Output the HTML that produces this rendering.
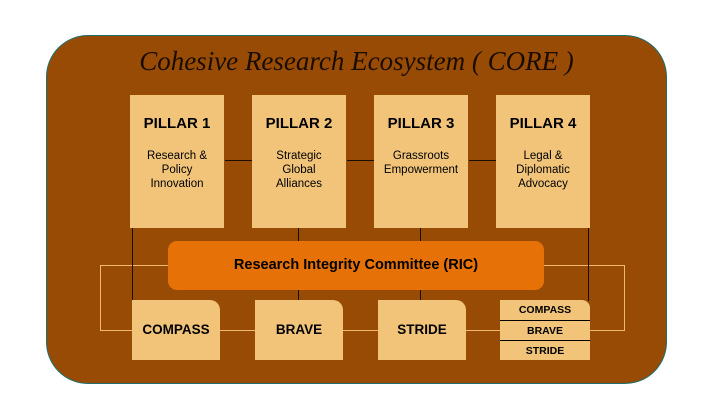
<!DOCTYPE html>
<html><head><meta charset="utf-8"><style>
body{margin:0;width:720px;height:405px;background:#fff;position:relative;overflow:hidden;font-family:"Liberation Sans",sans-serif}
.a{position:absolute;box-sizing:border-box}
.bg{left:46px;top:35px;width:621px;height:349px;background:#984b04;border:1.5px solid #1e6f70;border-radius:42px}
.t{left:46px;top:46px;width:621px;text-align:center;font-family:"Liberation Serif",serif;font-style:italic;font-size:27px;color:#1a0d00;letter-spacing:0px}
.p{top:95px;width:94px;height:133px;background:#f1c47a;text-align:center;color:#000}
.p b{display:block;margin-top:20px;font-size:15px}
.p div{margin-top:17px;font-size:11.5px;line-height:14px}
.l{background:#1a0d00}
.ric{left:168px;top:241px;width:376px;height:49px;background:#e57107;border-radius:9px;text-align:center;line-height:49px;font-weight:bold;font-size:14.5px;color:#000}
.b{top:300px;width:88px;height:60px;background:#f1c47a;border-top-right-radius:10px;text-align:center;line-height:60px;font-weight:bold;font-size:13.5px;color:#000}
.s{left:500px;top:300px;width:90px;height:60px;background:#f1c47a;border-top-right-radius:8px;font-weight:bold;font-size:10.5px;text-align:center;color:#000}
.s div{height:20px;line-height:20px;box-sizing:border-box}
</style></head><body>
<div class="a bg"></div>
<div class="a t">Cohesive Research Ecosystem ( CORE )</div>
<div class="a" style="left:100px;top:265px;width:525px;height:66px;border:1px solid #f0b870"></div>
<div class="a l" style="left:225px;top:160px;width:28px;height:1px"></div>
<div class="a l" style="left:347px;top:160px;width:28px;height:1px"></div>
<div class="a l" style="left:469px;top:160px;width:28px;height:1px"></div>
<div class="a l" style="left:132px;top:225px;width:1px;height:76px"></div>
<div class="a l" style="left:298px;top:225px;width:1px;height:76px"></div>
<div class="a l" style="left:420px;top:225px;width:1px;height:76px"></div>
<div class="a l" style="left:588px;top:225px;width:1px;height:76px"></div>
<div class="a" style="left:220px;top:330px;width:280px;border-top:1px dashed #f0b870"></div>
<div class="a p" style="left:130px"><b>PILLAR 1</b><div>Research &amp;<br>Policy<br>Innovation</div></div>
<div class="a p" style="left:252px"><b>PILLAR 2</b><div>Strategic<br>Global<br>Alliances</div></div>
<div class="a p" style="left:374px"><b>PILLAR 3</b><div>Grassroots<br>Empowerment</div></div>
<div class="a p" style="left:496px"><b>PILLAR 4</b><div>Legal &amp;<br>Diplomatic<br>Advocacy</div></div>
<div class="a ric">Research Integrity Committee (RIC)</div>
<div class="a b" style="left:132px">COMPASS</div>
<div class="a b" style="left:255px">BRAVE</div>
<div class="a b" style="left:378px">STRIDE</div>
<div class="a s"><div>COMPASS</div><div style="border-top:1px solid #000">BRAVE</div><div style="border-top:1px solid #000">STRIDE</div></div>
</body></html>
